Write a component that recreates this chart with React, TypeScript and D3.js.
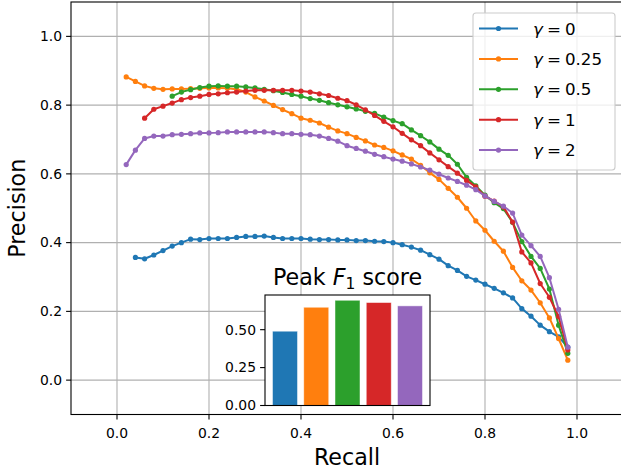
import React from 'react';
import * as d3 from 'd3';

const recallLevels = [
  0.02, 0.04, 0.06, 0.08, 0.10, 0.12, 0.14, 0.16, 0.18, 0.20,
  0.22, 0.24, 0.26, 0.28, 0.30, 0.32, 0.34, 0.36, 0.38, 0.40,
  0.42, 0.44, 0.46, 0.48, 0.50, 0.52, 0.54, 0.56, 0.58, 0.60,
  0.62, 0.64, 0.66, 0.68, 0.70, 0.72, 0.74, 0.76, 0.78, 0.80,
  0.82, 0.84, 0.86, 0.88, 0.90, 0.92, 0.94, 0.96, 0.98,
];

const precisionGamma0 = [
  null, 0.357, 0.353, 0.364, 0.377, 0.390, 0.400, 0.410, 0.409, 0.412,
  0.412, 0.412, 0.415, 0.418, 0.418, 0.419, 0.415, 0.412, 0.412, 0.412,
  0.410, 0.409, 0.409, 0.408, 0.408, 0.406, 0.406, 0.404, 0.403, 0.400,
  0.394, 0.387, 0.378, 0.365, 0.352, 0.333, 0.319, 0.302, 0.291, 0.279,
  0.267, 0.254, 0.239, 0.208, 0.186, 0.160, 0.141, 0.126, 0.096,
];
const precisionGamma025 = [
  0.882, 0.869, 0.856, 0.849, 0.846, 0.847, 0.847, 0.848, 0.849, 0.850,
  0.850, 0.849, 0.846, 0.838, 0.824, 0.812, 0.799, 0.787, 0.775, 0.762,
  0.756, 0.748, 0.736, 0.725, 0.717, 0.706, 0.696, 0.684, 0.677, 0.667,
  0.655, 0.643, 0.625, 0.603, 0.584, 0.558, 0.532, 0.500, 0.463, 0.436,
  0.404, 0.375, 0.328, 0.289, 0.262, 0.225, 0.181, 0.121, 0.058,
];
const precisionGamma05 = [
  null, null, null, null, null, 0.826, 0.838, 0.845, 0.851, 0.855,
  0.856, 0.855, 0.855, 0.853, 0.850, 0.846, 0.842, 0.837, 0.831, 0.826,
  0.819, 0.814, 0.807, 0.801, 0.795, 0.789, 0.782, 0.776, 0.765, 0.755,
  0.746, 0.728, 0.711, 0.693, 0.672, 0.654, 0.628, 0.590, 0.565, 0.538,
  0.516, 0.499, 0.459, 0.403, 0.360, 0.325, 0.265, 0.160, 0.078,
];
const precisionGamma1 = [
  null, null, 0.762, 0.788, 0.797, 0.806, 0.816, 0.822, 0.826, 0.831,
  0.833, 0.836, 0.838, 0.841, 0.843, 0.843, 0.843, 0.843, 0.843, 0.841,
  0.838, 0.833, 0.828, 0.820, 0.813, 0.801, 0.786, 0.770, 0.753, 0.737,
  0.718, 0.699, 0.682, 0.661, 0.641, 0.621, 0.602, 0.581, 0.562, 0.535,
  0.521, 0.504, 0.460, 0.373, 0.341, 0.281, 0.241, 0.185, 0.088,
];
const precisionGamma2 = [
  0.627, 0.669, 0.703, 0.710, 0.710, 0.714, 0.715, 0.717, 0.719, 0.719,
  0.720, 0.722, 0.722, 0.722, 0.722, 0.722, 0.720, 0.717, 0.717, 0.715,
  0.714, 0.710, 0.703, 0.695, 0.682, 0.674, 0.666, 0.657, 0.650, 0.643,
  0.637, 0.629, 0.620, 0.611, 0.599, 0.588, 0.578, 0.567, 0.554, 0.536,
  0.520, 0.506, 0.486, 0.422, 0.391, 0.360, 0.298, 0.206, 0.096,
];

const gammaLabels = ['0', '0.25', '0.5', '1', '2'];
const seriesColors = ['#1f77b4', '#ff7f0e', '#2ca02c', '#d62728', '#9467bd'];
const peakF1 = [0.49, 0.648, 0.694, 0.679, 0.657];

const xTicks = [0.0, 0.2, 0.4, 0.6, 0.8, 1.0];
const yTicks = [0.0, 0.2, 0.4, 0.6, 0.8, 1.0];
const insetTicks = [0.0, 0.25, 0.5];

const FONT = 'DejaVu Sans, sans-serif';

export default function App() {
  const W = 621;
  const H = 469;
  const x = d3.scaleLinear().domain([-0.1, 1.1]).range([71, 623]);
  const y = d3.scaleLinear().domain([-0.1, 1.1]).range([414.5, 2]);
  const seriesList = [precisionGamma0, precisionGamma025, precisionGamma05, precisionGamma1, precisionGamma2];

  const series = seriesList.map((vals, i) => ({
    color: seriesColors[i],
    label: gammaLabels[i],
    points: recallLevels
      .map((r, j) => ({ r, p: vals[j] }))
      .filter((d) => d.p !== null) as { r: number; p: number }[],
  }));

  const line = d3
    .line<{ r: number; p: number }>()
    .x((d) => x(d.r))
    .y((d) => y(d.p));

  const [x0, x1] = x.range();
  const [yb, yt] = y.range();

  // inset
  const ix = d3.scaleLinear().domain([-0.64, 4.64]).range([265, 430]);
  const iy = d3.scaleLinear().domain([0, 0.7287]).range([405.5, 295]);

  // legend
  const legX = 473;
  const legY = 13;
  const legW = 142;
  const legH = 157;
  const rowY = (i: number) => 28.5 + i * 30.4;

  return (
    <svg
      width={W}
      height={H}
      style={{ position: 'absolute', left: 0, top: 0, background: '#fff' }}
      fontFamily={FONT}
    >
      <rect x={0} y={0} width={W} height={H} fill="#fff" />
      {/* grid */}
      {xTicks.map((t) => (
        <line key={'gx' + t} x1={x(t)} x2={x(t)} y1={yt} y2={yb} stroke="#b0b0b0" strokeWidth={1.1} />
      ))}
      {yTicks.map((t) => (
        <line key={'gy' + t} x1={x0} x2={x1} y1={y(t)} y2={y(t)} stroke="#b0b0b0" strokeWidth={1.1} />
      ))}

      {/* series */}
      {series.map((s) => (
        <g key={s.label}>
          <path d={line(s.points) || ''} fill="none" stroke={s.color} strokeWidth={2} strokeLinejoin="round" />
          {s.points.map((d, j) => (
            <circle key={j} cx={x(d.r)} cy={y(d.p)} r={2.6} fill={s.color} />
          ))}
        </g>
      ))}

      {/* spines */}
      <rect x={x0} y={yt} width={x1 - x0} height={yb - yt} fill="none" stroke="#000" strokeWidth={1.1} />

      {/* x ticks */}
      {xTicks.map((t) => (
        <g key={'xt' + t}>
          <line x1={x(t)} x2={x(t)} y1={yb} y2={yb + 4.9} stroke="#000" strokeWidth={1.1} />
          <text x={x(t)} y={yb + 23.5} textAnchor="middle" fontSize={13.9} fill="#000">
            {d3.format('.1f')(t)}
          </text>
        </g>
      ))}
      {/* y ticks */}
      {yTicks.map((t) => (
        <g key={'yt' + t}>
          <line x1={x0 - 4.9} x2={x0} y1={y(t)} y2={y(t)} stroke="#000" strokeWidth={1.1} />
          <text x={x0 - 9} y={y(t)} dy="0.35em" textAnchor="end" fontSize={13.9} fill="#000">
            {d3.format('.1f')(t)}
          </text>
        </g>
      ))}

      <text x={(x(0) + x(1)) / 2} y={465} textAnchor="middle" fontSize={22.2} fill="#000">
        Recall
      </text>
      <text
        transform={`translate(25,${(yt + yb) / 2}) rotate(-90)`}
        textAnchor="middle"
        fontSize={22.2}
        fill="#000"
      >
        Precision
      </text>

      {/* legend */}
      <rect
        x={legX}
        y={legY}
        width={legW}
        height={legH}
        rx={3}
        ry={3}
        fill="#fff"
        fillOpacity={0.8}
        stroke="#cccccc"
        strokeWidth={1.1}
      />
      {series.map((s, i) => (
        <g key={'leg' + i}>
          <line x1={479} x2={518} y1={rowY(i)} y2={rowY(i)} stroke={s.color} strokeWidth={2} />
          <circle cx={498.5} cy={rowY(i)} r={2.6} fill={s.color} />
          <text x={533} y={rowY(i)} dy="0.36em" fontSize={16.7} fill="#000">
            <tspan fontStyle="italic">γ</tspan>
            <tspan dx={4}>=</tspan>
            <tspan dx={4}>{s.label}</tspan>
          </text>
        </g>
      ))}

      {/* inset */}
      <rect x={265} y={295} width={165} height={110.5} fill="#fff" />
      {peakF1.map((v, i) => (
        <rect
          key={'bar' + i}
          x={ix(i - 0.4)}
          y={iy(v)}
          width={ix(i + 0.4) - ix(i - 0.4)}
          height={iy(0) - iy(v)}
          fill={seriesColors[i]}
          stroke="#ffffff"
          strokeOpacity={0.6}
          strokeWidth={0.8}
        />
      ))}
      <rect x={265} y={295} width={165} height={110.5} fill="none" stroke="#000" strokeWidth={1.1} />
      {insetTicks.map((t) => (
        <g key={'it' + t}>
          <line x1={265 - 4.9} x2={265} y1={iy(t)} y2={iy(t)} stroke="#000" strokeWidth={1.1} />
          <text x={265 - 9} y={iy(t)} dy="0.35em" textAnchor="end" fontSize={13.9} fill="#000">
            {d3.format('.2f')(t)}
          </text>
        </g>
      ))}
      <text x={347.5} y={285} textAnchor="middle" fontSize={22.2} fill="#000">
        <tspan>Peak </tspan>
        <tspan fontStyle="italic">F</tspan>
        <tspan fontSize={15.5} dy={3.8}>1</tspan>
        <tspan dy={-3.8}> score</tspan>
      </text>
    </svg>
  );
}
